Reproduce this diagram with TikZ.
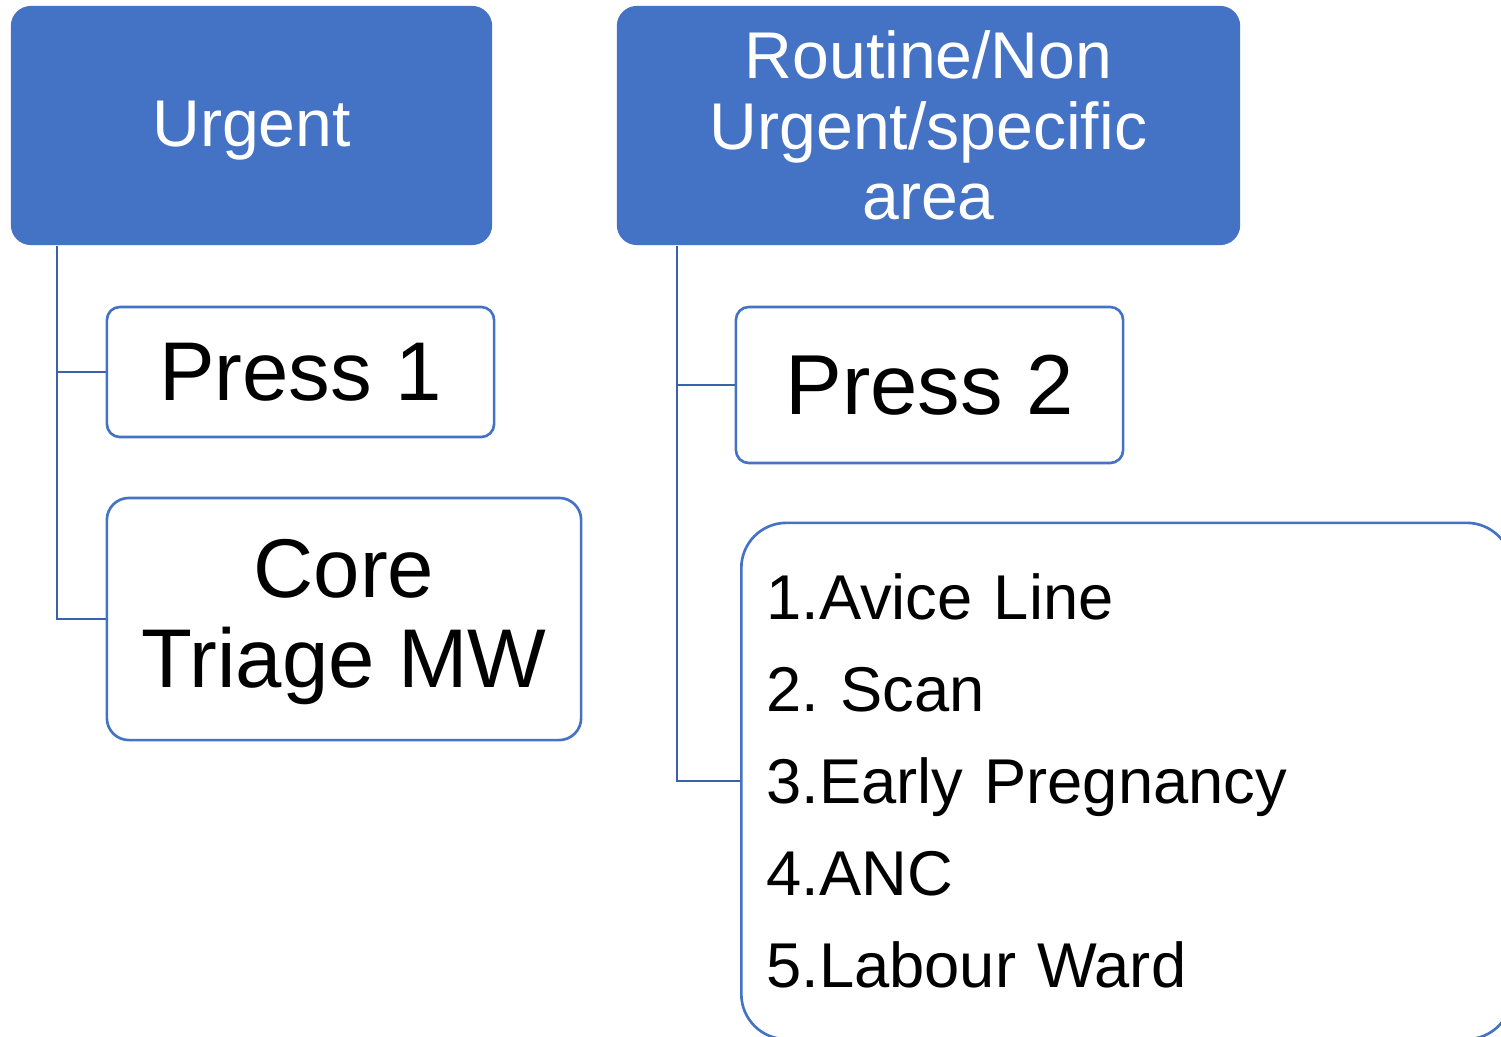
\documentclass[tikz,border=0pt]{standalone}
\usepackage{fontspec}
\setmainfont{Liberation Sans}
\usetikzlibrary{positioning, calc}
\definecolor{hdblue}{HTML}{4472C4}
\definecolor{lnblue}{HTML}{3A62A9}
\newcommand{\lowtext}[1]{\raisebox{-0.05cm}[\height][\depth]{#1}}

\begin{document}
\begin{tikzpicture}[x=0.01cm, y=-0.01cm,
  header/.style={fill=hdblue, rounded corners=0.2cm, text=white, align=center,
    inner sep=0pt, font=\fontsize{18.8}{20}\selectfont},
  option/.style={draw=hdblue, line width=0.75pt, fill=white, rounded corners=0.13cm,
    align=center, inner sep=0pt, font=\fontsize{23.7}{25.6}\selectfont},
  conn/.style={draw=lnblue, line width=0.6pt}]

% Frame of the picture (pixel units)
\useasboundingbox (0,0) rectangle (1501,1036);
\clip (0,0) rectangle (1501,1036);

% Top level
\node[header, minimum width=4.81cm, minimum height=2.39cm] (urgent) at (251.5,125.5) {\lowtext{Urgent}};
\node[header, minimum width=6.23cm, minimum height=2.39cm] (routine) at (928.5,125.5)
  {Routine/Non\\Urgent/specific\\area};

% Urgent branch
\node[option, minimum width=3.87cm, minimum height=1.30cm] (press1) at (300.5,372) {Press 1};
\node[option, rounded corners=0.22cm, minimum width=4.74cm, minimum height=2.42cm] (core) at (344,619)
  {\lowtext{\begin{tabular}{@{}c@{}}Core\\Triage MW\end{tabular}}};

% Routine branch
\node[option, font=\fontsize{24.2}{26}\selectfont, minimum width=3.87cm, minimum height=1.56cm] (press2) at (929.5,385) {Press 2};
\node[option, rounded corners=0.45cm, anchor=west, minimum width=7.7cm, minimum height=5.16cm,
  inner xsep=0.25cm, text width=7.2cm, align=left, font=\fontsize{18}{26.2}\selectfont] (list) at (740,781)
  {1.Avice Line\\2.\ Scan\\3.Early Pregnancy\\4.ANC\\5.Labour Ward};

% Connectors
\coordinate (ustem) at ($(urgent.south west)+(47,0)$);
\coordinate (rstem) at ($(routine.south west)+(61,0)$);
\draw[conn] (ustem) |- (press1.west);
\draw[conn] (ustem) |- (core.west);
\draw[conn] (rstem) |- (press2.west);
\draw[conn] (rstem) |- (list.west);

\end{tikzpicture}
\end{document}
